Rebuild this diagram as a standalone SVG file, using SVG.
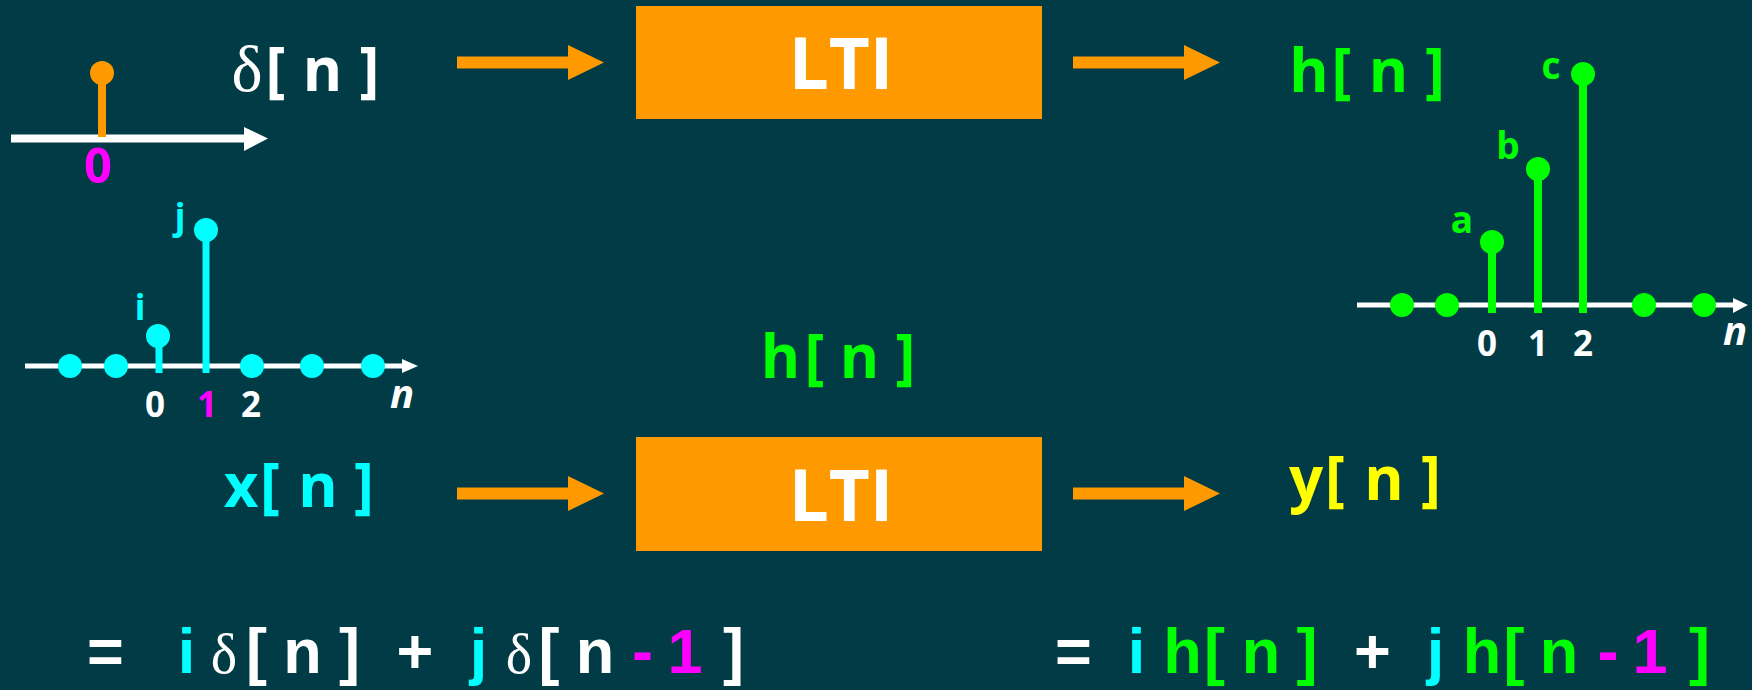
<svg xmlns="http://www.w3.org/2000/svg" width="1752" height="690" viewBox="0 0 1752 690">
<style>
.lb{font-family:"Open Sans","DejaVu Sans",sans-serif;font-weight:700;text-anchor:middle}
.big{font-size:60px}
.eq{font-family:"Liberation Sans",Arial,sans-serif;font-weight:700;font-size:63px;text-anchor:middle}
.dl{font-family:"Liberation Serif","Times New Roman",serif;text-anchor:middle}
.ital{font-style:italic;font-size:40px}
.num{font-size:35px}
.w{fill:#FFFFFF}.c{fill:#00FFFF}.g{fill:#00FF00}.m{fill:#FF00FF}.y{fill:#FFFF00}.o{fill:#FF9900}
.ax{stroke:#FFFFFF;stroke-width:5}
.box{fill:#FF9900}
</style>
<defs>
<path id="arr" d="M0,-6 L111,-6 L111,-17.5 L147,0 L111,17.5 L111,6 L0,6 Z" fill="#FF9900"/>
</defs>
<rect width="1752" height="690" fill="#013B46"/>

<g id="impulse-plot">
<line x1="11" y1="138.5" x2="246" y2="138.5" stroke="#FFFFFF" stroke-width="8"/>
<polygon points="244,127 268,138.5 244,151" fill="#FFFFFF"/>
<line x1="102" y1="73" x2="102" y2="137" stroke="#FF9900" stroke-width="8"/>
<circle cx="102" cy="73" r="12" class="o"/>
<text x="98" y="183" class="lb m" font-size="49">0</text>
</g>

<g id="delta-label">
<text x="247" y="91" class="dl w" font-size="66">δ</text>
<text y="91" class="lb big w"><tspan x="275.5">[</tspan><tspan x="322.5">n</tspan><tspan x="369.5">]</tspan></text>
</g>

<g id="lti-top">
<rect x="636" y="6" width="406" height="113" class="box"/>
<text x="841" y="89" class="lb w" font-size="71">LTI</text>
</g>

<g id="h-top-label">
<text y="92" class="lb big g"><tspan x="1309">h</tspan><tspan x="1341.5">[</tspan><tspan x="1388.5">n</tspan><tspan x="1435">]</tspan></text>
</g>

<g id="h-plot">
<line x1="1357" y1="305" x2="1735" y2="305" class="ax"/>
<polygon points="1733,298 1748,305 1733,313" fill="#FFFFFF"/>
<g fill="#00FF00">
<circle cx="1402" cy="305" r="12"/>
<circle cx="1447" cy="305" r="12"/>
<circle cx="1644" cy="305" r="12"/>
<circle cx="1704" cy="305" r="12"/>
<circle cx="1492" cy="242" r="12"/>
<circle cx="1538" cy="169" r="12"/>
<circle cx="1583" cy="74" r="12"/>
</g>
<g stroke="#00FF00" stroke-width="8">
<line x1="1492" y1="242" x2="1492" y2="313"/>
<line x1="1538" y1="169" x2="1538" y2="313"/>
<line x1="1583" y1="74" x2="1583" y2="313"/>
</g>
<text x="1462" y="233" class="lb g" font-size="37">a</text>
<text x="1508" y="159" class="lb g" font-size="37">b</text>
<text x="1551" y="79" class="lb g" font-size="37">c</text>
<text y="356" class="lb num w"><tspan x="1487">0</tspan><tspan x="1538">1</tspan><tspan x="1583">2</tspan></text>
<text x="1735" y="345" class="lb ital w">n</text>
</g>

<g id="x-plot">
<line x1="25" y1="366" x2="404" y2="366" class="ax"/>
<polygon points="402,359 418,366 402,373" fill="#FFFFFF"/>
<g fill="#00FFFF">
<circle cx="70" cy="366" r="12"/>
<circle cx="116" cy="366" r="12"/>
<circle cx="252" cy="366" r="12"/>
<circle cx="312" cy="366" r="12"/>
<circle cx="373" cy="366" r="12"/>
<circle cx="158" cy="336" r="12"/>
<circle cx="206" cy="230" r="12"/>
</g>
<g stroke="#00FFFF" stroke-width="7">
<line x1="159" y1="336" x2="159" y2="373"/>
<line x1="206" y1="230" x2="206" y2="373"/>
</g>
<text x="140" y="320" class="lb c" font-size="35">i</text>
<text x="180" y="229" class="lb c" font-size="35">j</text>
<text y="417" class="lb num"><tspan x="155" class="w">0</tspan><tspan x="207" class="m">1</tspan><tspan x="251" class="w">2</tspan></text>
<text x="402" y="408" class="lb ital w">n</text>
</g>

<g id="h-mid-label">
<text y="378" class="lb big g"><tspan x="780.5">h</tspan><tspan x="814.5">[</tspan><tspan x="859.5">n</tspan><tspan x="905.5">]</tspan></text>
</g>

<g id="x-label">
<text y="507" class="lb big c"><tspan x="241">x</tspan><tspan x="270">[</tspan><tspan x="318">n</tspan><tspan x="364">]</tspan></text>
</g>

<g id="lti-bottom">
<rect x="636" y="437" width="406" height="114" class="box"/>
<text x="841" y="521" class="lb w" font-size="71">LTI</text>
</g>

<g id="y-label">
<text y="500" class="lb big y"><tspan x="1306">y</tspan><tspan x="1335">[</tspan><tspan x="1384">n</tspan><tspan x="1431">]</tspan></text>
</g>

<g id="connectors">
<use href="#arr" x="457" y="62.5"/>
<use href="#arr" x="1073" y="62.5"/>
<use href="#arr" x="457" y="493.5"/>
<use href="#arr" x="1073" y="493.5"/>
</g>

<g id="eq-left">
<text y="673" class="eq"><tspan x="105.5" class="w">=</tspan><tspan x="186.5" class="c">i</tspan><tspan x="256.5" class="w">[</tspan><tspan x="302.5" class="w">n</tspan><tspan x="349.5" class="w">]</tspan><tspan x="415" class="w">+</tspan><tspan x="478.5" class="c">j</tspan><tspan x="549" class="w">[</tspan><tspan x="595" class="w">n</tspan><tspan x="642.5" class="m">-</tspan><tspan x="685" class="m">1</tspan><tspan x="733.5" class="w">]</tspan></text>
<text y="673" class="dl w" font-size="56"><tspan x="224">δ</tspan><tspan x="519">δ</tspan></text>
</g>

<g id="eq-right">
<text y="673" class="eq"><tspan x="1073.5" class="w">=</tspan><tspan x="1136.5" class="c">i</tspan><tspan x="1182.5" class="g">h</tspan><tspan x="1214.5" class="g">[</tspan><tspan x="1261" class="g">n</tspan><tspan x="1307" class="g">]</tspan><tspan x="1372.5" class="w">+</tspan><tspan x="1435.5" class="c">j</tspan><tspan x="1482" class="g">h</tspan><tspan x="1514" class="g">[</tspan><tspan x="1559" class="g">n</tspan><tspan x="1608" class="m">-</tspan><tspan x="1650" class="m">1</tspan><tspan x="1699.5" class="g">]</tspan></text>
</g>
</svg>
